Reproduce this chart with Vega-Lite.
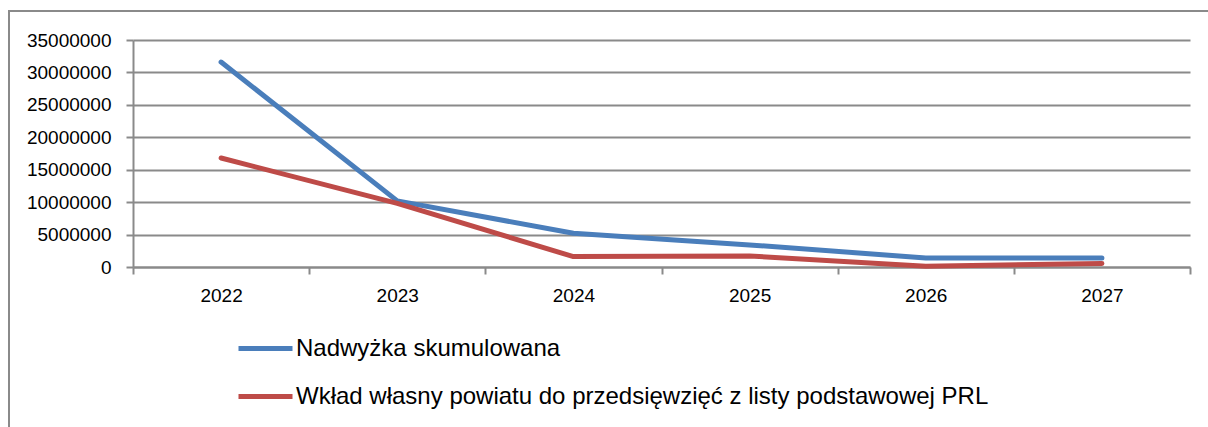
{
  "$schema": "https://vega.github.io/schema/vega-lite/v6.json",
  "width": 1057,
  "height": 227,
  "autosize": "none",
  "padding": {"left": 133, "top": 40, "right": 18, "bottom": 160},
  "background": "white",
  "config": {
    "view": {"stroke": null},
    "font": "Liberation Sans",
    "axis": {"labelFont": "Liberation Sans", "labelColor": "#000000"}
  },
  "data": {
    "values": [
      {"rok": "2022", "seria": "Nadwyżka skumulowana", "wartosc": 31600000},
      {"rok": "2023", "seria": "Nadwyżka skumulowana", "wartosc": 10200000},
      {"rok": "2024", "seria": "Nadwyżka skumulowana", "wartosc": 5200000},
      {"rok": "2025", "seria": "Nadwyżka skumulowana", "wartosc": 3400000},
      {"rok": "2026", "seria": "Nadwyżka skumulowana", "wartosc": 1400000},
      {"rok": "2027", "seria": "Nadwyżka skumulowana", "wartosc": 1400000},
      {"rok": "2022", "seria": "Wkład własny powiatu do przedsięwzięć z listy podstawowej PRL", "wartosc": 16800000},
      {"rok": "2023", "seria": "Wkład własny powiatu do przedsięwzięć z listy podstawowej PRL", "wartosc": 9800000},
      {"rok": "2024", "seria": "Wkład własny powiatu do przedsięwzięć z listy podstawowej PRL", "wartosc": 1600000},
      {"rok": "2025", "seria": "Wkład własny powiatu do przedsięwzięć z listy podstawowej PRL", "wartosc": 1700000},
      {"rok": "2026", "seria": "Wkład własny powiatu do przedsięwzięć z listy podstawowej PRL", "wartosc": 100000},
      {"rok": "2027", "seria": "Wkład własny powiatu do przedsięwzięć z listy podstawowej PRL", "wartosc": 550000}
    ]
  },
  "encoding": {
    "x": {
      "field": "rok",
      "type": "ordinal",
      "bandPosition": 0.5,
      "scale": {"type": "band", "paddingInner": 0, "paddingOuter": 0},
      "axis": {
        "title": null,
        "labelAngle": 0,
        "labelFontSize": 19,
        "labelPadding": 12,
        "tickBand": "extent",
        "tickSize": 7,
        "tickColor": "#8a8a8a",
        "tickWidth": 2,
        "domainColor": "#8a8a8a",
        "domainWidth": 2,
        "grid": false
      }
    },
    "y": {
      "field": "wartosc",
      "type": "quantitative",
      "scale": {"domain": [0, 35000000], "nice": false},
      "axis": {
        "title": null,
        "values": [0, 5000000, 10000000, 15000000, 20000000, 25000000, 30000000, 35000000],
        "format": "d",
        "labelFontSize": 19,
        "labelPadding": 15,
        "tickSize": 7,
        "tickColor": "#8a8a8a",
        "tickWidth": 2,
        "domainColor": "#8a8a8a",
        "domainWidth": 2,
        "grid": true,
        "gridColor": "#8a8a8a",
        "gridWidth": 2
      }
    }
  },
  "layer": [
    {
      "mark": {"type": "line", "strokeWidth": 5, "strokeCap": "round", "strokeJoin": "round"},
      "encoding": {
        "color": {
          "field": "seria",
          "type": "nominal",
          "scale": {
            "domain": ["Nadwyżka skumulowana", "Wkład własny powiatu do przedsięwzięć z listy podstawowej PRL"],
            "range": ["#4A7EBB", "#BE4B48"]
          },
          "legend": {
            "title": null,
            "orient": "none",
            "legendX": 103,
            "legendY": 279,
            "direction": "vertical",
            "symbolType": "stroke",
            "symbolSize": 2916,
            "symbolStrokeWidth": 5,
            "labelFontSize": 24,
            "labelFont": "Liberation Sans",
            "labelColor": "#000000",
            "labelOffset": 1,
            "labelLimit": 1000,
            "rowPadding": 6
          }
        }
      }
    },
    {
      "mark": {"type": "point", "opacity": 0},
      "encoding": {
        "fill": {
          "field": "wartosc",
          "type": "quantitative",
          "scale": {"range": ["rgba(255,255,255,0)", "rgba(255,255,255,0)"]},
          "legend": {
            "title": null,
            "orient": "none",
            "legendX": -124,
            "legendY": -29,
            "direction": "horizontal",
            "gradientLength": 1400,
            "gradientThickness": 600,
            "gradientStrokeColor": "#8a8a8a",
            "gradientStrokeWidth": 2,
            "labels": false,
            "padding": 0
          }
        }
      }
    }
  ]
}
